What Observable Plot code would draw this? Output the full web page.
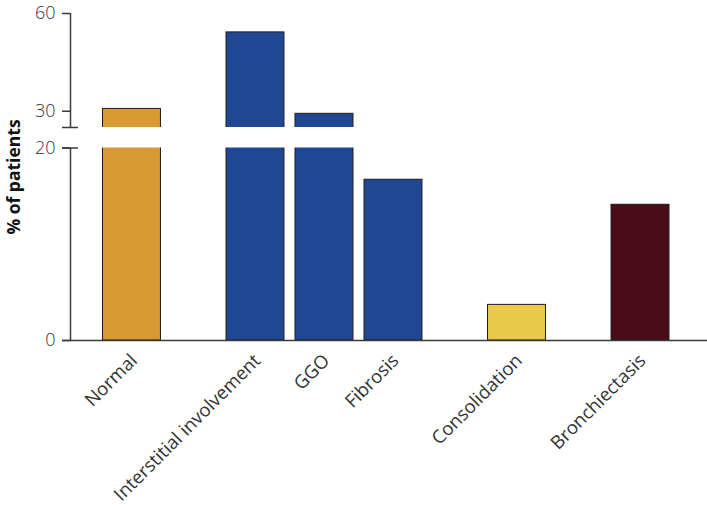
<!DOCTYPE html>
<html><head><meta charset="utf-8">
<script src="https://cdn.jsdelivr.net/npm/d3@7"></script>
<script src="https://cdn.jsdelivr.net/npm/@observablehq/plot@0.6"></script>
<style>
body{margin:0;background:#fff;}
#chart svg{font-family:"Open Sans",sans-serif;}
#chart g[aria-label="y-axis tick label"] text{font-weight:300;font-size:18px;fill:#333;}
#chart g[aria-label="y-axis label"] text{font-family:"Open Sans",sans-serif;font-weight:700;font-size:17.5px;fill:#111;}
#chart g[aria-label="category label"] text{font-weight:300;font-size:18.5px;fill:#333;}
</style></head><body><div id="chart"></div>
<script>
const categories = ["Normal","Interstitial involvement","GGO","Fibrosis","Consolidation","Bronchiectasis"];
const percent = [30.7, 54.2, 29.2, 16.7, 3.7, 14.1];
const groupOf = [0, 1, 1, 1, 2, 3];
const colors = ["#D99A35","#1F4794","#1F4794","#1F4794","#EBCA4B","#4A0C19"];
const yTicks = [0, 20, 30, 60];
const breakLow = 20, breakHigh = 25, yMax = 60;

const W = 707, H = 505, mL = 70, mT = 13, mB = 165;
const step = 69;               // pixel step between bars inside a group
const gapExtra = 0.79;         // extra spacing between groups, in steps
const first = 0.891;           // first bar center, in steps from the axis
const xMax = (W - mL) / step;
const half = 0.42;
const px = 8 / step;

const data = categories.map((c, i) => ({
  name: c, value: percent[i], color: colors[i],
  pos: first + i + groupOf[i] * gapExtra
}));

const bottom = H - mB;
const range = [bottom, bottom - 192.5, bottom - 213, mT];

const chart = Plot.plot({
  width: W, height: H,
  marginLeft: mL, marginRight: 0, marginTop: mT, marginBottom: mB,
  style: {color: "#333", background: "white"},
  x: {type: "linear", domain: [0, xMax], axis: null},
  y: {type: "linear", domain: [0, breakLow, breakHigh, yMax], range},
  marks: [
    Plot.rect(data, {x1: d => d.pos - half, x2: d => d.pos + half, y1: 0, y2: "value",
      fill: "color", stroke: "#1c1c1c", strokeWidth: 1}),
    Plot.rect([0], {x1: 0, x2: xMax, y1: breakLow, y2: breakHigh, fill: "white"}),
    Plot.axisY({ticks: yTicks, tickSize: 8, tickPadding: 7, fontSize: 18,
      label: "% of patients", labelAnchor: "center", labelArrow: "none", labelOffset: 63,
      stroke: "#3a3a3a", strokeWidth: 1.5}),
    Plot.ruleX([0], {y1: 0, y2: breakLow, stroke: "#3a3a3a", strokeWidth: 1.5}),
    Plot.ruleX([0], {y1: breakHigh, y2: yMax, stroke: "#3a3a3a", strokeWidth: 1.5}),
    Plot.ruleY([breakLow, breakHigh], {x1: -px, x2: px, stroke: "#3a3a3a", strokeWidth: 1.5}),
    Plot.ruleY([0], {x1: -px, x2: xMax, stroke: "#3a3a3a", strokeWidth: 1.5}),
    Plot.text(data, {x: "pos", y: 0, text: "name", rotate: -45, textAnchor: "end",
      lineAnchor: "top", dx: -3, dy: 12, fontSize: 18.5, fill: "#333", ariaLabel: "category label"})
  ]
});
document.getElementById("chart").appendChild(chart);
</script></body></html>
